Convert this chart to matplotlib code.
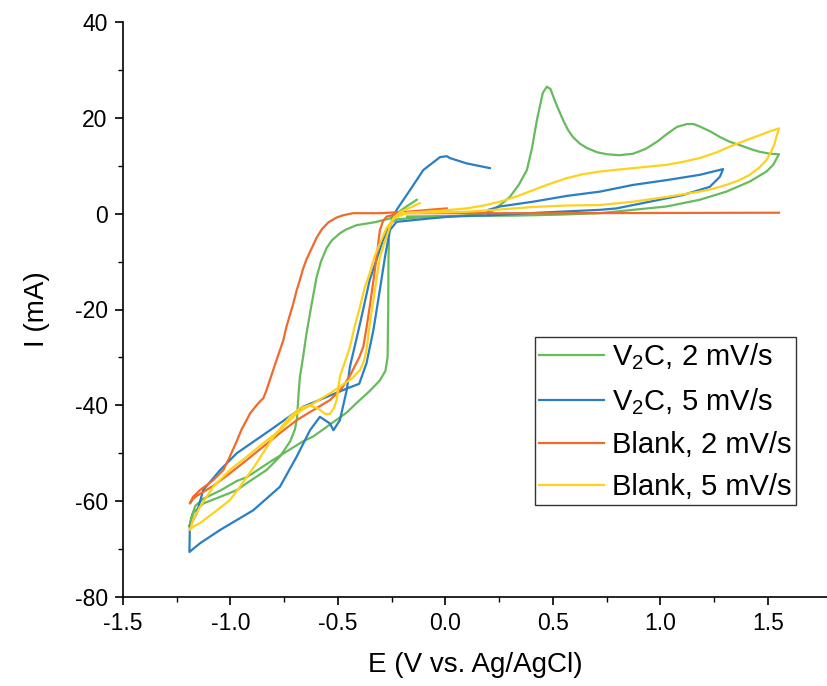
import numpy as np
import matplotlib
matplotlib.use("Agg")
import matplotlib.pyplot as plt
from matplotlib.ticker import MultipleLocator, FixedLocator

plt.rcParams['font.family'] = ['Liberation Sans', 'DejaVu Sans']
plt.rcParams['mathtext.default'] = 'regular'
plt.rcParams['axes.unicode_minus'] = False

# V2C, 2 mV/s
green_E = [-0.133, -0.178, -0.218, -0.258, -0.330, -0.413, -0.462, -0.491, -0.529, -0.553,
           -0.579, -0.599, -0.616, -0.630, -0.648, -0.662, -0.677, -0.684, -0.690, -0.700,
           -0.722, -0.770, -0.832, -0.923, -0.971, -1.048, -1.127, -1.174, -1.191,
           -1.183, -1.164, -1.127, -1.048, -0.971, -0.924, -0.816, -0.770, -0.662, -0.615,
           -0.506, -0.459, -0.413, -0.352, -0.305, -0.279, -0.269, -0.266, -0.265, -0.262,
           -0.254, -0.229, -0.127, 0.026, 0.148, 0.219, 0.260, 0.300, 0.341, 0.379, 0.402,
           0.426, 0.453, 0.472, 0.489, 0.514, 0.547, 0.570, 0.593, 0.626, 0.658, 0.707,
           0.751, 0.809, 0.872, 0.931, 0.984, 1.033, 1.077, 1.123, 1.155, 1.183, 1.231,
           1.277, 1.323, 1.370, 1.419, 1.463, 1.511, 1.552,
           1.525, 1.494, 1.416, 1.307, 1.183, 1.029, 0.873, 0.719, 0.534, 0.331, 0.026, -0.178]
green_I = [2.9, 1.6, 0.3, -1.0, -1.8, -2.4, -3.3, -4.1, -5.6, -7.2,
           -10.0, -13.2, -17.3, -20.8, -25.5, -29.9, -34.1, -38.2, -42.5, -45.0,
           -47.5, -50.7, -53.5, -56.2, -57.7, -59.1, -60.5, -62.5, -65.3,
           -63.5, -61.0, -59.5, -57.8, -55.8, -55.0, -51.8, -50.5, -47.5, -46.5,
           -43.0, -41.5, -39.5, -37.0, -34.8, -32.8, -30.0, -20.0, -10.0, -4.0,
           -2.0, -1.2, -0.8, -0.6, -0.2, 0.6, 2.0, 3.5, 6.0, 9.1, 13.5,
           19.6, 25.2, 26.5, 26.0, 23.0, 19.6, 17.5, 16.0, 14.6, 13.7, 12.8,
           12.4, 12.2, 12.5, 13.5, 15.0, 16.7, 18.1, 18.7, 18.7, 18.2, 17.2,
           16.0, 15.0, 14.3, 13.5, 12.9, 12.5, 12.4,
           10.2, 8.8, 6.7, 4.6, 2.9, 1.5, 0.8, 0.1, -0.2, -0.4, -0.5, -0.6]

# V2C, 5 mV/s
blue_E = [0.200, 0.200, 0.254, 0.408, 0.564, 0.719, 0.873, 1.029, 1.183, 1.292,
          1.277, 1.230, 1.106, 0.951, 0.796, 0.719, 0.433, 0.229, 0.026, -0.072, -0.227,
          -0.258, -0.281, -0.305, -0.335, -0.367, -0.401, -0.459, -0.662, -0.816,
          -0.971, -1.048, -1.127, -1.157, -1.189, -1.191,
          -1.142, -1.048, -0.894, -0.770, -0.692, -0.630, -0.584, -0.537, -0.521,
          -0.491, -0.459, -0.444, -0.397, -0.352, -0.290, -0.227, -0.165, -0.103,
          -0.025, 0.006, 0.021, 0.098, 0.207]
blue_I = [-0.3, 0.8, 1.5, 2.5, 3.7, 4.6, 6.0, 7.0, 8.1, 9.3,
          7.7, 5.6, 3.9, 2.5, 1.1, 0.8, 0.2, -0.3, -0.6, -1.0, -1.7,
          -3.4, -9.0, -15.9, -24.3, -31.2, -35.5, -36.5, -40.3, -45.2,
          -50.0, -53.5, -57.7, -62.5, -65.3, -70.6,
          -68.8, -66.0, -61.9, -57.0, -50.7, -45.2, -42.4, -43.8, -45.2,
          -43.1, -36.8, -31.9, -22.9, -13.8, -5.5, 0.8, 4.9, 9.1,
          11.8, 12.0, 11.6, 10.5, 9.5]

# Blank, 2 mV/s
orange_E = [0.006, -0.076, -0.178, -0.305, -0.429, -0.473, -0.506, -0.544, -0.574, -0.599,
            -0.625, -0.646, -0.662, -0.677, -0.692, -0.708, -0.739, -0.754, -0.770,
            -0.801, -0.832, -0.847, -0.863, -0.879, -0.909, -0.924, -0.948, -0.971,
            -1.003, -1.033, -1.080, -1.142, -1.174, -1.189,
            -1.175, -1.157, -1.080, -1.003, -0.924, -0.847, -0.770, -0.692, -0.615,
            -0.537, -0.483, -0.444, -0.401, -0.382, -0.366, -0.352, -0.335, -0.320,
            -0.305, -0.290, -0.273, -0.211, 0.026, 0.534, 1.043, 1.552]
orange_I = [1.1, 0.8, 0.4, 0.1, 0.1, -0.3, -0.8, -1.8, -3.2, -5.0,
            -7.5, -9.5, -11.5, -13.8, -16.0, -18.8, -23.5, -26.4, -28.5,
            -32.6, -36.8, -38.5, -39.2, -40.0, -41.7, -43.0, -45.0, -47.5,
            -50.7, -53.5, -55.6, -57.7, -59.1, -60.5,
            -59.6, -58.9, -56.8, -54.2, -51.4, -48.6, -45.8, -43.1, -41.0,
            -38.9, -36.5, -33.8, -30.0, -27.8, -23.5, -19.4, -14.0, -9.0,
            -3.5, -1.5, -0.6, 0.1, 0.1, 0.1, 0.15, 0.2]

# Blank, 5 mV/s
yellow_E = [-0.119, -0.157, -0.208, -0.241, -0.258, -0.279, -0.305, -0.328, -0.352, -0.367,
            -0.381, -0.397, -0.432, -0.475, -0.537, -0.615, -0.692, -0.770, -0.847,
            -0.924, -1.003, -1.080, -1.142, -1.174, -1.189,
            -1.174, -1.142, -1.080, -1.003, -0.956, -0.879, -0.801, -0.724, -0.676,
            -0.635, -0.595, -0.559, -0.537, -0.518, -0.506, -0.491, -0.468, -0.444,
            -0.422, -0.397, -0.376, -0.352, -0.330, -0.305, -0.274, -0.239, -0.178,
            -0.025, 0.098, 0.178, 0.254, 0.331, 0.408, 0.484, 0.564, 0.636, 0.719,
            0.873, 1.029, 1.104, 1.183, 1.262, 1.339, 1.404, 1.463, 1.511, 1.552,
            1.541, 1.532, 1.514, 1.494, 1.460, 1.416, 1.368, 1.307, 1.246, 1.183,
            1.029, 0.873, 0.719, 0.564, 0.408, 0.229, 0.098, -0.076, -0.211]
yellow_I = [2.2, 1.4, 0.4, -0.8, -2.7, -5.5, -9.0, -15.9, -22.9, -28.5,
            -31.0, -32.6, -34.3, -35.6, -37.5, -39.6, -41.7, -45.2, -47.9,
            -50.7, -53.5, -57.0, -61.2, -63.9, -66.0,
            -65.3, -64.6, -62.5, -59.8, -57.0, -52.1, -46.6, -42.4, -40.6,
            -40.0, -40.6, -41.8, -41.8, -40.5, -38.9, -34.0, -31.0, -27.8,
            -23.5, -19.4, -15.5, -12.4, -9.0, -6.2, -3.0, -1.0, 0.2,
            0.6, 1.1, 1.7, 2.5, 3.6, 4.9, 6.2, 7.4, 8.2, 8.8,
            9.5, 10.2, 10.8, 11.6, 12.8, 14.3, 15.4, 16.4, 17.2, 17.8,
            16.2, 14.7, 12.8, 11.2, 9.6, 8.1, 7.0, 6.0, 5.2, 4.6,
            3.5, 2.5, 1.8, 1.7, 1.4, 0.8, 0.4, 0.2, 0.1]

x_minor = [-1.25, -0.75, -0.25, 0.25, 0.75, 1.25]

series = [
    (green_E, green_I, '#66BB5C', 'V$_2$C, 2 mV/s'),
    (blue_E, blue_I, '#2A7FC4', 'V$_2$C, 5 mV/s'),
    (orange_E, orange_I, '#F26A2B', 'Blank, 2 mV/s'),
    (yellow_E, yellow_I, '#FFD11C', 'Blank, 5 mV/s'),
]

fig = plt.figure(figsize=(8.28, 6.86), dpi=100)
ax = fig.add_axes([123 / 828, 89 / 686, 705 / 828, 575 / 686])

for E, I, color, label in series:
    ax.plot(E, I, color=color, lw=1.6, label=label)

ax.set_xlim(-1.5, 1.78)
ax.set_ylim(-80, 40)
ax.xaxis.set_major_locator(MultipleLocator(0.5))
ax.xaxis.set_minor_locator(FixedLocator(x_minor))
ax.yaxis.set_major_locator(MultipleLocator(20))
ax.yaxis.set_minor_locator(MultipleLocator(10))
ax.xaxis.set_major_formatter(plt.FuncFormatter(lambda v, p: f"{v:.1f}"))

for side in ['top', 'right']:
    ax.spines[side].set_visible(False)
for side in ['left', 'bottom']:
    ax.spines[side].set_linewidth(1.2)

ax.tick_params(which='major', direction='out', length=6, width=1.2, labelsize=16.5, pad=5)
ax.tick_params(which='minor', direction='out', length=3.5, width=1.0)

ax.set_xlabel('E (V vs. Ag/AgCl)', fontsize=20, labelpad=12)
ax.set_ylabel('I (mA)', fontsize=20, labelpad=18)

leg = ax.legend(loc='upper left', bbox_to_anchor=((535 - 123) / 705, (597 - 337) / 575),
                prop={'size': 21}, frameon=True, fancybox=False, shadow=False,
                handlelength=2.2, handletextpad=0.3, borderpad=0.15,
                labelspacing=0.48, borderaxespad=0)
leg.get_frame().set_edgecolor('black')
leg.get_frame().set_linewidth(1.0)

fig.savefig('out.png', dpi=100)
